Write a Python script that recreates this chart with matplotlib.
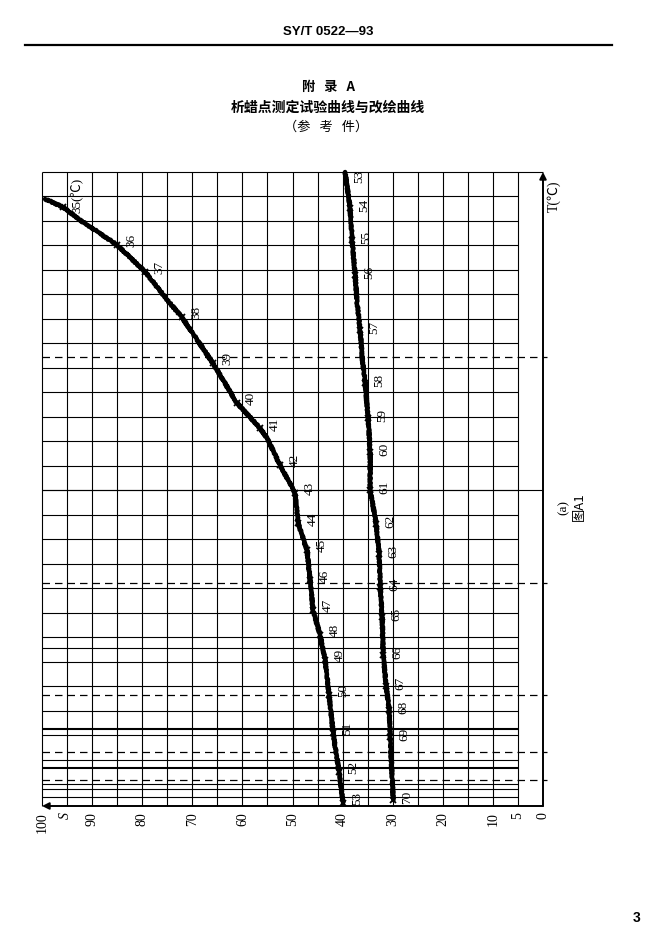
"""
SY/T 0522-93 Appendix A, figure A1(a): wax appearance point test curves.
Redrawn from the scanned page with matplotlib.
"""

import numpy as np
import matplotlib
matplotlib.use("Agg")
import matplotlib.pyplot as plt
from matplotlib.transforms import blended_transform_factory

# ── Data ─────────────────────────────────────────────────────────────────────
# S axis in %, vertical position h in chart-paper divisions above the S axis

# left curve (35 -> 53 degC), traced vertices
LEFT_S = [99.4, 95.8, 92.4, 85.0, 79.4, 74.5, 72.1, 65.9, 61.1, 56.5,
          55.1, 52.5, 49.5, 48.9, 47.1, 46.5, 45.9, 44.5, 43.5, 42.7, 41.9,
          40.7, 39.9]
LEFT_H = [24.78, 24.45, 23.92, 22.90, 21.80, 20.53, 19.96, 18.08,
          16.45, 15.43, 15.02, 13.92, 12.78, 11.55, 10.45, 9.22, 8.00, 6.98,
          5.96, 4.53, 2.98, 1.39, 0.12]

# temperature marks on the left curve
LEFT_T  = [35, 36, 37, 38, 39, 40, 41, 42, 43, 44, 45, 46, 47, 48, 49, 50,
           51, 52, 53]
LEFT_TS = [95.8, 85.0, 79.4, 72.1, 65.9, 61.1, 56.5, 52.5, 49.5, 48.9, 47.1,
           46.5, 45.9, 44.5, 43.5, 42.7, 41.9, 40.7, 39.9]
LEFT_TH = [24.45, 22.90, 21.80, 19.96, 18.08, 16.45, 15.43, 13.92, 12.78,
           11.55, 10.45, 9.22, 8.00, 6.98, 5.96, 4.53, 2.98, 1.39, 0.12]

# right curve (53 -> 70 degC), traced vertices
RIGHT_S = [39.5, 38.9, 38.5, 38.1, 37.5, 37.1, 36.5, 36.1, 35.5, 34.9, 34.5,
           34.5, 33.3, 32.7, 32.5, 32.1, 31.9, 31.3, 30.7, 30.5, 29.9]
RIGHT_H = [25.88, 25.02, 24.41, 23.10, 21.67, 20.53, 19.43, 18.33, 17.27,
           15.84, 14.45, 12.90, 11.51, 10.29, 8.94, 7.71, 6.16, 4.90, 3.92,
           2.82, 0.24]

# temperature marks on the right curve
RIGHT_T  = [53, 54, 55, 56, 57, 58, 59, 60, 61, 62, 63, 64, 65, 66, 67, 68,
            69, 70]
RIGHT_TS = [39.5, 38.5, 38.1, 37.5, 36.5, 35.5, 34.9, 34.5, 34.5, 33.3, 32.7,
            32.5, 32.1, 31.9, 31.3, 30.7, 30.5, 29.9]
RIGHT_TH = [25.88, 24.41, 23.10, 21.67, 19.43, 17.27, 15.84, 14.45, 12.90,
            11.51, 10.29, 8.94, 7.71, 6.16, 4.90, 3.92, 2.82, 0.24]

# S axis labels
S_TICKS = [100, 90, 80, 70, 60, 50, 40, 30, 20, 10, 5, 0]

# chart paper rulings
H_TOP   = 25.88
S_GRID  = np.arange(100, 4, -5)              # vertical rulings, S = 100 ... 5
H_GRID  = np.arange(0.88, 25.0, 1.0)         # regular horizontal rulings
H_EXTRA = [6.45, 0.69, 0.37]                 # odd extra rulings near the bottom
H_THICK = [3.14, 1.55]                       # heavier rulings
H_DASH  = [18.33, 9.10, 4.53, 2.20, 1.06]    # dashed rulings
H_LONG  = [12.88]                            # rulings drawn up to the T axis

SERIF = ["Liberation Serif", "Noto Sans CJK SC"]
CJK   = ["Noto Sans CJK SC", "DejaVu Sans"]

# ── Figure / page ────────────────────────────────────────────────────────────
fig = plt.figure(figsize=(6.62, 9.35), dpi=100)
fig.patch.set_facecolor("white")

# page header
fig.text(328 / 662, 1 - 32 / 935, "SY/T 0522—93", ha="center", va="center",
         fontsize=9.5, fontweight="bold", family=["Liberation Sans", "DejaVu Sans"])
fig.add_artist(plt.Line2D([25 / 662, 612 / 662], [1 - 45 / 935] * 2,
                          color="black", lw=1.6))

fig.text(328 / 662, 1 - 87 / 935, "附   录   A", ha="center", va="center",
         fontsize=9.5, fontweight="bold", family=CJK)
fig.text(328 / 662, 1 - 108 / 935, "析蜡点测定试验曲线与改绘曲线", ha="center",
         va="center", fontsize=10, fontweight="bold", family=CJK)
fig.text(326 / 662, 1 - 127 / 935, "（参   考   件）", ha="center", va="center",
         fontsize=9.5, family=CJK)

fig.text(637 / 662, 1 - 918 / 935, "3", ha="center", va="center",
         fontsize=10, fontweight="bold", family=["Liberation Sans"])

# ── Axes ─────────────────────────────────────────────────────────────────────
ax = fig.add_axes([42 / 662, 1 - 806 / 935, (543 - 42) / 662, (806 - 172) / 935])
ax.set_xlim(100, 0)
ax.set_ylim(0, H_TOP)
ax.axis("off")

grid_kw = dict(color="black", lw=0.8, clip_on=False)
ax.vlines(S_GRID, 0, H_TOP, **grid_kw)
ax.hlines(H_GRID, 100, 5, **grid_kw)
ax.hlines(H_EXTRA, 100, 5, **grid_kw)
ax.hlines(H_THICK, 100, 5, color="black", lw=1.5, clip_on=False)
ax.hlines(H_LONG, 100, 0, **grid_kw)
ax.hlines([H_TOP], 100, 0, **grid_kw)
ax.hlines(H_DASH, 100, -0.8, color="black", lw=0.9, linestyles=(0, (6, 4)),
          clip_on=False)

# axes with arrows: S pointing left, T pointing up
ax.annotate("", xy=(100, 0), xytext=(0, 0),
            arrowprops=dict(arrowstyle="-|>", color="black", lw=1.4,
                            mutation_scale=10, shrinkA=0, shrinkB=0),
            annotation_clip=False)
ax.annotate("", xy=(0, H_TOP), xytext=(0, 0),
            arrowprops=dict(arrowstyle="-|>", color="black", lw=1.4,
                            mutation_scale=10, shrinkA=0, shrinkB=0),
            annotation_clip=False)

# curves
for xs, hs in [(LEFT_S, LEFT_H), (RIGHT_S, RIGHT_H)]:
    line, = ax.plot(xs, hs, color="black", lw=3.2, solid_capstyle="round",
                    solid_joinstyle="round", clip_on=False, zorder=3)
    line.set_sketch_params(scale=0.7, length=3, randomness=2)

ax.plot(LEFT_TS, LEFT_TH, "x", color="black", ms=5, mew=1.3, zorder=4,
        clip_on=False)
ax.plot(RIGHT_TS[1:], RIGHT_TH[1:], "x", color="black", ms=5, mew=1.3,
        zorder=4, clip_on=False)

# temperature labels along the curves
for t, s, h in zip(LEFT_T, LEFT_TS, LEFT_TH):
    if t == 35:
        ax.annotate("35(℃)", (s, h), xytext=(5, -4), textcoords="offset points",
                    rotation=90, ha="left", va="bottom", fontsize=9.5,
                    family=SERIF, annotation_clip=False)
    else:
        ax.annotate(str(t), (s, h), xytext=(6, 3), textcoords="offset points",
                    rotation=90, ha="left", va="center", fontsize=9.5,
                    family=SERIF, annotation_clip=False)

for t, s, h in zip(RIGHT_T, RIGHT_TS, RIGHT_TH):
    ax.annotate(str(t), (s, h), xytext=(6, 2 if t != 53 else -3),
                textcoords="offset points", rotation=90, ha="left",
                va="center", fontsize=9.5, family=SERIF, annotation_clip=False)

# S axis tick labels
bt = blended_transform_factory(ax.transData, ax.transAxes)
for s in S_TICKS:
    ax.text(s, -0.01, str(s), transform=bt, rotation=90, ha="center",
            va="top", fontsize=10, family=SERIF)
ax.text(95.3, -0.01, "S", transform=bt, rotation=90, ha="center", va="top",
        fontsize=10, style="italic", family=SERIF)

# T axis label and figure caption (page is printed sideways)
ax.text(-2.2, 24.9, "T(℃)", rotation=90, ha="center", va="center",
        fontsize=10, family=SERIF, clip_on=False)
ax.text(-4.2, 12.2, "(a)", rotation=90, ha="center", va="center",
        fontsize=9.5, family=SERIF, clip_on=False)
ax.text(-7.2, 12.2, "图A1", rotation=90, ha="center", va="center",
        fontsize=9.5, family=["Noto Sans CJK SC", "Liberation Serif"],
        clip_on=False)

fig.savefig("out.png", dpi=100)
plt.close(fig)
